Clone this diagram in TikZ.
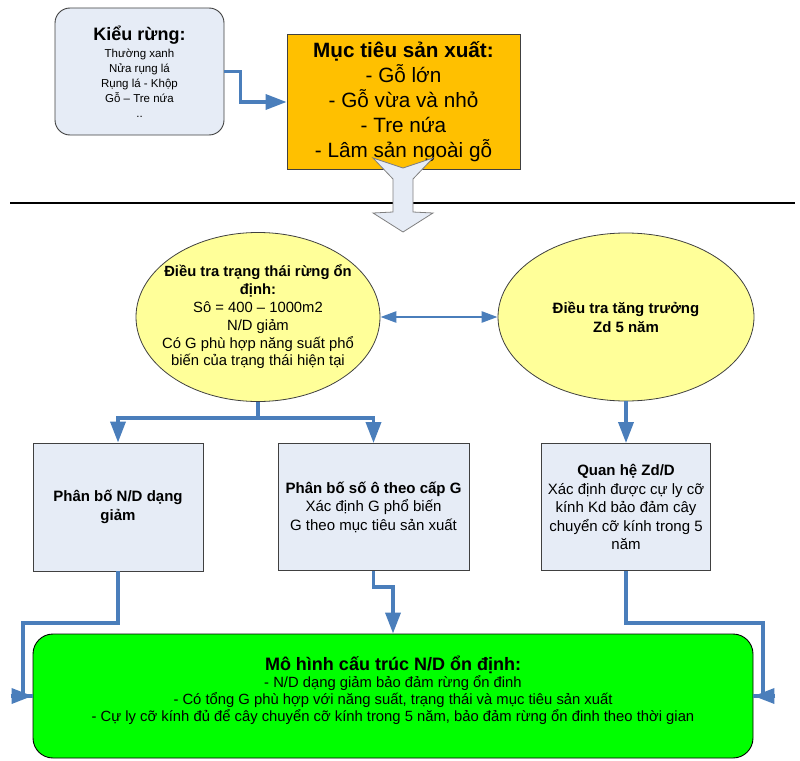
\documentclass[tikz,border=0pt]{standalone}
\usepackage{fontspec}
\setmainfont{Liberation Sans}
\usetikzlibrary{
  positioning, arrows.meta,
  shapes.geometric
}

\definecolor{flowblue}{HTML}{4A7EBB}
\definecolor{boxblue}{HTML}{E6ECF6}
\definecolor{goalorange}{HTML}{FFC000}
\definecolor{surveyyellow}{HTML}{FFFF99}
\definecolor{modelgreen}{HTML}{00FF00}
\definecolor{edgegray}{HTML}{404040}

\tikzset{
  infobox/.style={draw=edgegray, line width=0.9pt, fill=boxblue, align=center,
    font=\fontsize{15}{18.5}\selectfont},
  survey/.style={ellipse, draw=edgegray, line width=0.8pt, fill=surveyyellow,
    inner sep=0pt},
  wire/.style={draw=flowblue, line width=3.5pt},
  flow/.style={wire, -{Triangle[length=21pt,width=15pt]}},
  link/.style={draw=flowblue, line width=2.5pt,
    {Triangle[length=16pt,width=11pt]}-{Triangle[length=16pt,width=11pt]}}
}

\begin{document}
\begin{tikzpicture}[x=1pt,y=-1pt,node distance=190pt,on grid]
      \useasboundingbox (0,0) rectangle (800,760);

      % top part
      \node[infobox, rounded corners=15pt, minimum width=169pt, minimum height=127pt,
            font=\fontsize{11.5}{15}\selectfont] (t_1) at (139.5,71.5)
            {{\fontsize{18}{20}\selectfont\bfseries Kiểu rừng:}\\[2pt]
             Thường xanh\\Nửa rụng lá\\Rụng lá - Khộp\\Gỗ – Tre nứa\\..};
      \node[draw=edgegray, line width=0.8pt, fill=goalorange, align=center,
            minimum width=233pt, minimum height=135pt,
            font=\fontsize{20.7}{25}\selectfont] (t_2) at (403.5,102)
            {\bfseries Mục tiêu sản xuất:\\- Gỗ lớn\\- Gỗ vừa và nhỏ\\- Tre nứa\\- Lâm sản ngoài gỗ};
      \draw[flow] (t_1.east) -- ++(16,0) |- (t_2.west);

      \draw[line width=2pt] (10,203) -- (795,203);
      \draw[draw=gray, line width=0.8pt, fill=boxblue]
        (373,158) -- (393,179) -- (393,212) -- (373,213) -- (403,232)
        -- (433,213) -- (413,212) -- (413,179) -- (433,158) -- (403,168) -- cycle;

      % surveys
      \node[survey, minimum width=244pt, minimum height=169pt,
            label={[align=center,font=\fontsize{14.8}{17.8}\selectfont]center:{%
              \bfseries Điều tra trạng thái rừng ổn\\\bfseries định:\\Sô = 400 – 1000m2\\N/D giảm\\%
              Có G phù hợp năng suất phổ\\biến của trạng thái hiện tại}}] (e_1) at (258,317) {};
      \node[survey, minimum width=256pt, minimum height=168pt,
            label={[align=center,font=\fontsize{15}{19}\selectfont\bfseries]center:{%
              Điều tra tăng trưởng\\Zd 5 năm}}] (e_2) [right=368pt of e_1] {};
      \draw[link] (e_1.east) -- (e_2.west);

      % analyses
      \node[infobox, minimum width=170pt, minimum height=128pt] (b_1)
            [below left=190pt and 140pt of e_1] {\bfseries Phân bố N/D dạng\\\bfseries giảm};
      \node[infobox, minimum width=191pt, minimum height=127pt] (b_2)
            [below right=190pt and 115.5pt of e_1]
            {\bfseries Phân bố số ô theo cấp G\\Xác định G phổ biến\\G theo mục tiêu sản xuất};
      \node[infobox, minimum width=169pt, minimum height=127pt] (b_3) [below=of e_2]
            {\bfseries Quan hệ Zd/D\\Xác định được cự ly cỡ\\kính Kd bảo đảm cây\\chuyển cỡ kính trong 5\\năm};
      \draw[flow] (e_1.south) -- ++(0,16) -| (b_1.north);
      \draw[flow] (e_1.south) -- ++(0,16) -| (b_2.north);
      \draw[flow] (e_2.south) -- (b_3.north);

      % model
      \node[draw=black, line width=0.9pt, fill=modelgreen, rounded corners=20pt,
            minimum width=720pt, minimum height=124pt,
            label={[align=center,yshift=6pt,font=\fontsize{14.8}{17}\selectfont]center:{%
              {\fontsize{18}{20}\selectfont\bfseries Mô hình cấu trúc N/D ổn định:}\\%
              - N/D dạng giảm bảo đảm rừng ổn đinh\\%
              - Có tổng G phù hợp với năng suất, trạng thái và mục tiêu sản xuất\\%
              - Cự ly cỡ kính đủ để cây chuyển cỡ kính trong 5 năm, bảo đảm rừng ổn đinh theo thời gian}}]
            (g_1) at (393,696) {};
      \coordinate (l_bend) at (23,623);
      \coordinate (r_bend) at (763,623);
      \draw[wire] (b_1.south) |- (l_bend) |- (g_1.west);
      \draw[flow] (g_1.west) ++(-22,0) -- (g_1.west);
      \draw[flow] (b_2.south) -- ++(0,16) -| (g_1.north);
      \draw[wire] (b_3.south) |- (r_bend) |- (g_1.east);
      \draw[flow] (g_1.east) ++(22,0) -- (g_1.east);

    \end{tikzpicture}
\end{document}
